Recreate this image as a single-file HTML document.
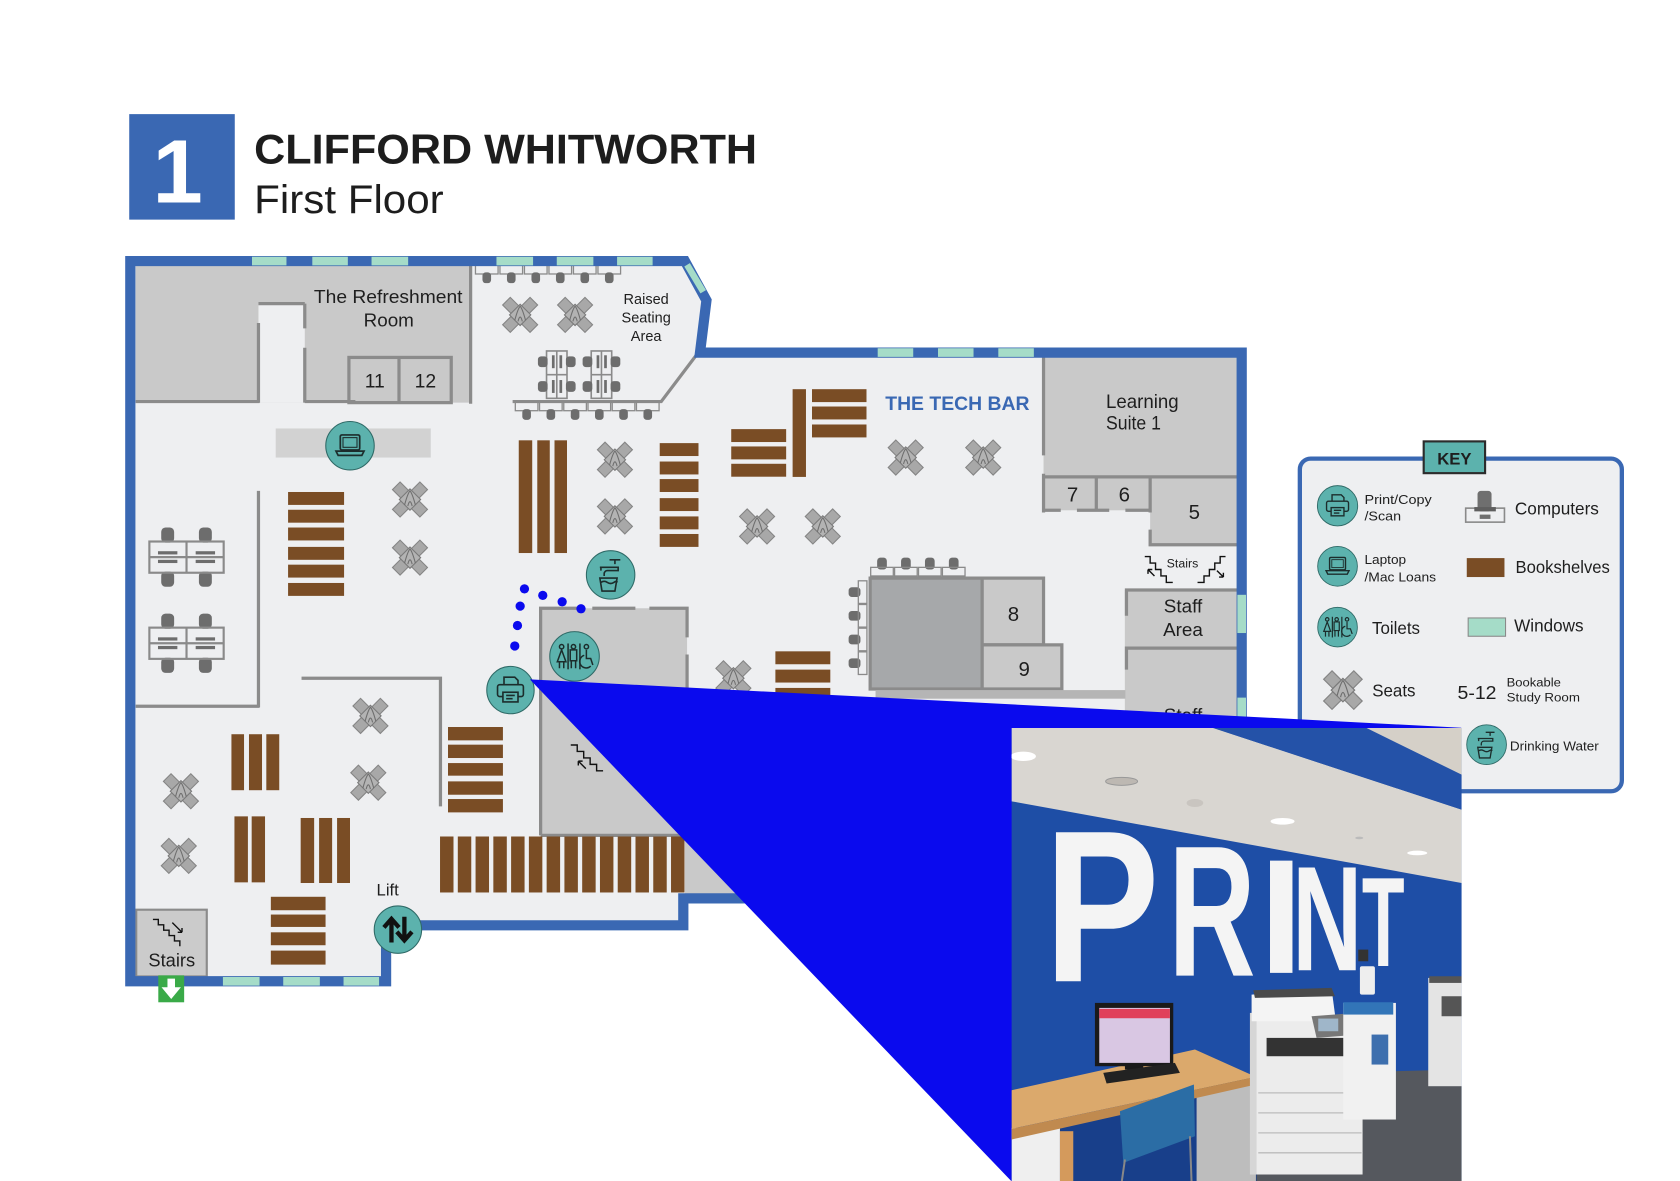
<!DOCTYPE html>
<html><head><meta charset="utf-8">
<style>
html,body{margin:0;padding:0;background:#fff;overflow:hidden}
svg{display:block}
text{font-family:"Liberation Sans",Arial,sans-serif}
</style></head>
<body>
<svg width="1680" height="1181" viewBox="0 0 1560 1097" preserveAspectRatio="none" xmlns="http://www.w3.org/2000/svg">
<defs>
 <g id="seat">
  <rect x="-18" y="-5" width="36" height="10" fill="#a8a8a8" stroke="#858585" stroke-width="1" transform="rotate(45)"/>
  <rect x="-18" y="-5" width="36" height="10" fill="#a8a8a8" stroke="#858585" stroke-width="1" transform="rotate(-45)"/>
  <rect x="-7" y="-7" width="14" height="14" fill="#b3b3b3" stroke="#7a7a7a" stroke-width="1" transform="rotate(45)"/>
  <path d="M-5,5 Q-2,-6 0,-8 Q2,-6 5,5 M-2,6 Q0,-2 2,6" fill="none" stroke="#6e6e6e" stroke-width="1"/>
 </g>
 <g id="cc">
  <rect x="12" y="1" width="12" height="14" rx="4" fill="#6d6d6d"/>
  <rect x="47" y="1" width="12" height="14" rx="4" fill="#6d6d6d"/>
  <rect x="12" y="42" width="12" height="14" rx="4" fill="#6d6d6d"/>
  <rect x="47" y="42" width="12" height="14" rx="4" fill="#6d6d6d"/>
  <rect x="1" y="14" width="69" height="29" fill="none" stroke="#8a8a8a" stroke-width="2"/>
  <path d="M35.5,14 V43 M1,28.5 H70" stroke="#8a8a8a" stroke-width="2"/>
  <rect x="9" y="23" width="18" height="3" fill="#6d6d6d"/>
  <rect x="44" y="23" width="18" height="3" fill="#6d6d6d"/>
  <rect x="9" y="31" width="18" height="3" fill="#6d6d6d"/>
  <rect x="44" y="31" width="18" height="3" fill="#6d6d6d"/>
 </g>
 <g id="vc">
  <rect x="9" y="1" width="19" height="44" fill="none" stroke="#8a8a8a" stroke-width="1.5"/>
  <path d="M18.5,1 V45 M9,23 H28" stroke="#8a8a8a" stroke-width="1.5"/>
  <rect x="1" y="6" width="9" height="10" rx="3" fill="#6d6d6d"/>
  <rect x="1" y="29" width="9" height="10" rx="3" fill="#6d6d6d"/>
  <rect x="27" y="6" width="9" height="10" rx="3" fill="#6d6d6d"/>
  <rect x="27" y="29" width="9" height="10" rx="3" fill="#6d6d6d"/>
  <rect x="14" y="5" width="2.5" height="12" fill="#6d6d6d"/>
  <rect x="21" y="5" width="2.5" height="12" fill="#6d6d6d"/>
  <rect x="14" y="28" width="2.5" height="12" fill="#6d6d6d"/>
  <rect x="21" y="28" width="2.5" height="12" fill="#6d6d6d"/>
 </g>
 <g id="du"><rect x="0.5" y="0.5" width="21" height="8" fill="none" stroke="#8a8a8a" stroke-width="1.2"/><rect x="7" y="7" width="8" height="10" rx="3" fill="#6d6d6d"/></g>
 <g id="du2"><rect x="6.5" y="0" width="9" height="11" rx="3" fill="#6d6d6d"/><rect x="0.5" y="9" width="21" height="8" fill="none" stroke="#8a8a8a" stroke-width="1.2"/></g>
 <g id="du3"><rect x="0" y="6.5" width="11" height="9" rx="3" fill="#6d6d6d"/><rect x="9" y="0.5" width="8" height="21" fill="none" stroke="#8a8a8a" stroke-width="1.2"/></g>
 <g id="printer"><circle r="22" fill="#5cb2ad" stroke="#2f6a67" stroke-width="1"/><g fill="none" stroke="#1c2d2c" stroke-width="1.5"><path d="M-6,-5 V-12 H4 L7,-9 V-5"/><rect x="-12" y="-5" width="24" height="11" rx="2"/><rect x="-7" y="2" width="14" height="9" fill="#5cb2ad"/><path d="M-4,5 H4 M-4,8 H2"/></g></g>
 <g id="laptop"><circle r="22.5" fill="#5cb2ad" stroke="#2f6a67" stroke-width="1"/><g fill="none" stroke="#1c2d2c" stroke-width="1.6"><rect x="-9" y="-10" width="18" height="14" rx="1.5"/><rect x="-6.5" y="-7.5" width="13" height="9" stroke-width="1"/><path d="M-13,5 H13 L11,9 H-11 Z"/></g></g>
 <g id="toilet"><circle r="23" fill="#5cb2ad" stroke="#2f6a67" stroke-width="1"/><g fill="none" stroke="#1c2d2c" stroke-width="1.4"><circle cx="-12" cy="-9" r="2"/><path d="M-12,-6 L-16,5 H-8 Z M-14,5 V11 M-10,5 V11"/><path d="M-6,-12 V12"/><circle cx="-1" cy="-9" r="2"/><path d="M-4,-6 H2 V4 H-4 Z M-3,4 V11 M1,4 V11"/><path d="M5,-12 V12"/><circle cx="11" cy="-9" r="2"/><path d="M11,-6 V2 H15 L17,8 M9,-1 A6,6 0 1 0 15,9"/></g></g>
 <g id="water"><circle r="22.5" fill="#5cb2ad" stroke="#2f6a67" stroke-width="1"/><g fill="none" stroke="#1c2d2c" stroke-width="1.5"><path d="M-1,-14 H9 M4,-14 V-10 M-10,-7 H7 V-4 H-3 A3,3 0 0 0 -6,-1 V1 M-9,-7 V-4"/><path d="M-10,3 H6 L4,15 H-8 Z"/><path d="M-9,7 Q-6,5 -3,7 T3,7 T6,7"/></g></g>
 <clipPath id="pc"><rect x="5" y="25" width="1350" height="1362"/></clipPath>
</defs>

<!-- HEADER -->
<rect x="120" y="106" width="98" height="98" fill="#3a68b3"/>
<text x="165" y="188" font-size="84" font-weight="700" fill="#fff" text-anchor="middle">1</text>
<text x="236" y="152" font-size="39" font-weight="700" fill="#1d1d1d" textLength="467" lengthAdjust="spacingAndGlyphs">CLIFFORD WHITWORTH</text>
<text x="236" y="198" font-size="37" fill="#1d1d1d" textLength="176" lengthAdjust="spacingAndGlyphs">First Floor</text>

<!-- FLOOR -->
<polygon points="121,242.5 636,242.5 656,279 650,327.5 1153,327.5 1153,705 770,705 770,834.5 634.5,834.5 634.5,859.5 358.5,859.5 358.5,911.5 121,911.5" fill="#eeeff1"/>

<!-- refreshment area -->
<rect x="126" y="247" width="311" height="127" fill="#c9c9c9"/>
<rect x="240" y="282" width="43" height="92" fill="#eeeff1"/>
<rect x="324" y="332" width="95" height="42" fill="#c9c9c9" stroke="#8b8b8b" stroke-width="3"/>
<path d="M370.5,332 V374" stroke="#8b8b8b" stroke-width="3"/>
<g stroke="#8b8b8b" stroke-width="3" fill="none">
 <path d="M126,373 H241 M240,300 V374 M240,282 H283 M283,282 V305 M283,323 V374 M283,373 H330 M437,247 V375"/>
 <path d="M240,456 V657 M126,656 H241 M280,630 H409 V749"/>
 <path d="M476,373 H614 L648,328"/>
</g>
<text x="360.5" y="281.5" font-size="17.5" fill="#1e1e1e" text-anchor="middle" textLength="138" lengthAdjust="spacingAndGlyphs">The Refreshment</text>
<text x="361" y="303.5" font-size="17.5" fill="#1e1e1e" text-anchor="middle">Room</text>
<text x="348" y="360" font-size="18" fill="#1e1e1e" text-anchor="middle">11</text>
<text x="395" y="360" font-size="18" fill="#1e1e1e" text-anchor="middle">12</text>

<!-- raised seating -->
<use href="#du" x="441" y="246"/><use href="#du" x="463.75" y="246"/><use href="#du" x="486.5" y="246"/><use href="#du" x="509.25" y="246"/><use href="#du" x="532" y="246"/><use href="#du" x="554.75" y="246"/>
<use href="#du" x="478" y="373"/><use href="#du" x="500.5" y="373"/><use href="#du" x="523" y="373"/><use href="#du" x="545.5" y="373"/><use href="#du" x="568" y="373"/><use href="#du" x="590.5" y="373"/>
<use href="#vc" x="498.5" y="325"/><use href="#vc" x="540" y="325"/>
<text x="600" y="282.3" font-size="13.5" fill="#1e1e1e" text-anchor="middle">Raised</text>
<text x="600" y="299.6" font-size="13.5" fill="#1e1e1e" text-anchor="middle">Seating</text>
<text x="600" y="316.6" font-size="13.5" fill="#1e1e1e" text-anchor="middle">Area</text>

<!-- laptop bar -->
<rect x="256" y="398" width="144" height="27" fill="#d2d2d2"/>

<!-- computer clusters -->
<use href="#cc" x="137.7" y="489"/><use href="#cc" x="137.7" y="569"/>

<!-- bookshelves -->
<g fill="#7a4d25">
 <rect x="267.5" y="457" width="52" height="12"/><rect x="267.5" y="473.5" width="52" height="12"/><rect x="267.5" y="490" width="52" height="12"/><rect x="267.5" y="508" width="52" height="12"/><rect x="267.5" y="524.5" width="52" height="12"/><rect x="267.5" y="541.5" width="52" height="12"/>
 <rect x="481.7" y="409" width="12.5" height="104.7"/><rect x="498.9" y="409" width="11.6" height="104.7"/><rect x="514.9" y="409" width="11.6" height="104.7"/>
 <rect x="612.6" y="411.6" width="36" height="12"/><rect x="612.6" y="428.7" width="36" height="12"/><rect x="612.6" y="445" width="36" height="12"/><rect x="612.6" y="462.7" width="36" height="12"/><rect x="612.6" y="479.7" width="36" height="12"/><rect x="612.6" y="496" width="36" height="12"/>
 <rect x="679" y="398.6" width="51" height="12"/><rect x="679" y="414.7" width="51" height="12"/><rect x="679" y="430.8" width="51" height="12"/>
 <rect x="736" y="361.5" width="12.4" height="81.5"/>
 <rect x="754" y="361.5" width="50.6" height="12"/><rect x="754" y="377.6" width="50.6" height="12"/><rect x="754" y="394.3" width="50.6" height="12"/>
 <rect x="720" y="605" width="51" height="12"/><rect x="720" y="622" width="51" height="12"/><rect x="720" y="639" width="51" height="12"/>
 <rect x="214.9" y="682" width="11.7" height="52"/><rect x="231.2" y="682" width="12.1" height="52"/><rect x="247.3" y="682" width="12" height="52"/>
 <rect x="217.7" y="758.3" width="12.5" height="61.3"/><rect x="233.7" y="758.3" width="12.4" height="61.3"/>
 <rect x="279.2" y="759.8" width="12.5" height="60.4"/><rect x="296.3" y="759.8" width="12.1" height="60.4"/><rect x="313" y="759.8" width="12" height="60.4"/>
 <rect x="251.5" y="833" width="50.8" height="12.5"/><rect x="251.5" y="849.5" width="50.8" height="11.5"/><rect x="251.5" y="866" width="50.8" height="12"/><rect x="251.5" y="883" width="50.8" height="13"/>
 <rect x="416" y="675.3" width="51" height="12.4"/><rect x="416" y="691.7" width="51" height="12.4"/><rect x="416" y="708.8" width="51" height="11.7"/><rect x="416" y="725.8" width="51" height="12.4"/><rect x="416" y="742.2" width="51" height="12.4"/>
</g>

<!-- toilet block -->
<rect x="502" y="565" width="136" height="210" fill="#c9c9c9"/>
<rect x="636" y="777" width="140" height="55" fill="#c9c9c9"/>
<g stroke="#8b8b8b" stroke-width="3" fill="none">
 <path d="M502,776 V565 H540 M550,565 H590 M603,565 H638 V592 M638,608 V640 M502,776 H638"/>
</g>
<g fill="#7a4d25">
 <rect x="408.6" y="777" width="12.5" height="52"/><rect x="425.1" y="777" width="12.5" height="52"/><rect x="441.6" y="777" width="12.5" height="52"/><rect x="458.1" y="777" width="12.5" height="52"/><rect x="474.6" y="777" width="12.5" height="52"/><rect x="491.1" y="777" width="12.5" height="52"/><rect x="507.6" y="777" width="12.5" height="52"/><rect x="524.1" y="777" width="12.5" height="52"/><rect x="540.6" y="777" width="12.5" height="52"/><rect x="557.1" y="777" width="12.5" height="52"/><rect x="573.6" y="777" width="12.5" height="52"/><rect x="590.1" y="777" width="12.5" height="52"/><rect x="606.6" y="777" width="12.5" height="52"/><rect x="623.1" y="777" width="12.5" height="52"/>
</g>
<g fill="none" stroke="#111" stroke-width="1.3">
 <path d="M530,692 h6 v6 h6 v6 h6 v6 h6 v6 h6"/>
 <path d="M544,714 l-7,-7 M537,707 h4 M537,707 v4"/>
</g>

<!-- tech bar rooms -->
<rect x="969" y="332" width="181" height="111" fill="#c9c9c9"/>
<rect x="969" y="443" width="99" height="31" fill="#c9c9c9"/>
<rect x="1068" y="443" width="82" height="63" fill="#c9c9c9"/>
<rect x="1044.5" y="548" width="106" height="54" fill="#c9c9c9"/>
<rect x="1044.5" y="602" width="106" height="100" fill="#c9c9c9"/>
<g stroke="#8b8b8b" stroke-width="3" fill="none">
 <path d="M969,332 V423 M969,440 V476 M969,443 H1150 M969,474 H985 M1000,474 H1030 M1045,474 H1068 M1018,443 V474 M1068,443 V476 M1068,492 V506 H1150"/>
 <path d="M1044.5,548 H1150 M1046,548 V572 M1044.5,602 H1150 M1046,602 V622"/>
</g>
<rect x="808" y="537" width="104" height="103" fill="#a6a8aa" stroke="#8b8b8b" stroke-width="3"/>
<rect x="912" y="537" width="57" height="62" fill="#c9c9c9" stroke="#8b8b8b" stroke-width="3"/>
<rect x="912" y="599" width="74" height="41" fill="#c9c9c9" stroke="#8b8b8b" stroke-width="3"/>
<rect x="813" y="641" width="232" height="8" fill="#b5b5b5"/>
<use href="#du2" x="808" y="518"/><use href="#du2" x="830.2" y="518"/><use href="#du2" x="852.4" y="518"/><use href="#du2" x="874.6" y="518"/>
<use href="#du3" x="788" y="539"/><use href="#du3" x="788" y="561"/><use href="#du3" x="788" y="583"/><use href="#du3" x="788" y="605"/>

<text x="822" y="381" font-size="18" font-weight="700" fill="#3a68b3" textLength="134" lengthAdjust="spacingAndGlyphs">THE TECH BAR</text>
<text x="1027" y="379" font-size="18" fill="#1e1e1e" textLength="67.5" lengthAdjust="spacingAndGlyphs">Learning</text>
<text x="1027" y="399" font-size="18" fill="#1e1e1e" textLength="51" lengthAdjust="spacingAndGlyphs">Suite 1</text>
<text x="996" y="466" font-size="19" fill="#1e1e1e" text-anchor="middle">7</text>
<text x="1044" y="466" font-size="19" fill="#1e1e1e" text-anchor="middle">6</text>
<text x="1109" y="482" font-size="19" fill="#1e1e1e" text-anchor="middle">5</text>
<text x="941" y="577" font-size="19" fill="#1e1e1e" text-anchor="middle">8</text>
<text x="951" y="628" font-size="19" fill="#1e1e1e" text-anchor="middle">9</text>
<text x="1098.5" y="569" font-size="17.5" fill="#1e1e1e" text-anchor="middle">Staff</text>
<text x="1098.5" y="591" font-size="17.5" fill="#1e1e1e" text-anchor="middle">Area</text>
<text x="1098.5" y="670" font-size="17.5" fill="#1e1e1e" text-anchor="middle">Staff</text>
<text x="1098" y="527" font-size="11.5" fill="#1e1e1e" text-anchor="middle">Stairs</text>
<g fill="none" stroke="#111" stroke-width="1.3">
 <path d="M1063,517 h5 v6 h5 v6 h5 v6 h5 v6 h6"/>
 <path d="M1072,535 l-6,-6 M1066,529 h4 M1066,529 v4"/>
 <path d="M1138,517 h-5 v6 h-5 v6 h-5 v6 h-5 v6 h-6"/>
 <path d="M1130,530 l6,6 M1136,536 h-4 M1136,536 v-4"/>
</g>

<!-- seats -->
<use href="#seat" x="483" y="292.5"/><use href="#seat" x="534" y="292.5"/>
<use href="#seat" x="380.7" y="464"/><use href="#seat" x="380.7" y="518"/>
<use href="#seat" x="571" y="427"/><use href="#seat" x="571" y="479.7"/>
<use href="#seat" x="841" y="425"/><use href="#seat" x="913" y="425"/>
<use href="#seat" x="703" y="489"/><use href="#seat" x="764" y="489"/>
<use href="#seat" x="681" y="630"/>
<use href="#seat" x="344" y="665"/><use href="#seat" x="342" y="727"/>
<use href="#seat" x="168" y="735"/><use href="#seat" x="166" y="795"/>

<!-- bottom-left stairs -->
<rect x="126.5" y="845" width="65.5" height="62" fill="#cbcbcb" stroke="#8b8b8b" stroke-width="2"/>
<g fill="none" stroke="#111" stroke-width="1.3">
 <path d="M142,854 h5 v5 h5 v5 h5 v5 h5 v5 h5 v5"/>
 <path d="M160,857 l9,9 M169,866 h-4 M169,866 v-4"/>
</g>
<text x="159.5" y="898" font-size="17" fill="#1e1e1e" text-anchor="middle">Stairs</text>

<!-- OUTER WALL -->
<path d="M770,834.5 H634.5 V859.5 H358.5 V911.5 H121 V242.5 H636 L656,279 L650,327.5 H1153 V705" fill="none" stroke="#3a68b3" stroke-width="9.5" stroke-linejoin="miter"/>
<g fill="#a5dcc8">
 <rect x="234" y="238.5" width="32" height="8"/><rect x="290" y="238.5" width="33" height="8"/><rect x="345" y="238.5" width="34" height="8"/>
 <rect x="461" y="238.5" width="34" height="8"/><rect x="517" y="238.5" width="34" height="8"/><rect x="573" y="238.5" width="33" height="8"/>
 <rect x="815" y="323.5" width="33" height="8"/><rect x="871" y="323.5" width="33" height="8"/><rect x="927" y="323.5" width="33" height="8"/>
 <rect x="1149" y="552.5" width="8" height="35.5"/><rect x="1149" y="648" width="8" height="25"/>
 <rect x="207" y="907.5" width="34" height="8"/><rect x="263" y="907.5" width="34" height="8"/><rect x="319" y="907.5" width="33" height="8"/>
</g>
<path d="M638,246 L653,271" stroke="#a5dcc8" stroke-width="6"/>

<!-- green exit arrow -->
<rect x="147" y="906" width="24" height="25" fill="#3aaa48"/>
<polygon points="155.5,909 162.5,909 162.5,917 168,917 159,928 150,917 155.5,917" fill="#fff"/>

<!-- lift -->
<text x="360" y="832" font-size="15.5" fill="#1e1e1e" text-anchor="middle">Lift</text>
<g transform="translate(369.5,863.5)">
 <circle r="22" fill="#5cb2ad" stroke="#2f6a67" stroke-width="1"/>
 <g stroke="#111" stroke-width="4" fill="none"><path d="M-6,12 V-9 M-13,-2 L-6,-10 L1,-2"/><path d="M6,-12 V9 M-1,2 L6,10 L13,2"/></g>
</g>

<!-- icons on plan -->
<use href="#laptop" x="325" y="414"/>
<use href="#water" x="567" y="534"/>
<use href="#toilet" x="533.5" y="609.7"/>
<g fill="#0a0aee">
 <circle cx="487" cy="547" r="4.3"/><circle cx="504" cy="553" r="4.3"/><circle cx="522" cy="559" r="4.3"/><circle cx="539.5" cy="565.5" r="4.3"/>
 <circle cx="483" cy="563" r="4.3"/><circle cx="480.5" cy="581" r="4.3"/><circle cx="478" cy="600" r="4.3"/>
</g>
<use href="#printer" x="474" y="641"/>

<!-- LEGEND -->
<rect x="1207" y="426" width="299" height="309" rx="10" fill="#eeeff1" stroke="#3a68b3" stroke-width="4"/>
<rect x="1322" y="410" width="57" height="29.5" fill="#5cb2ad" stroke="#2c2c2c" stroke-width="2"/>
<text x="1350.5" y="431.5" font-size="15.5" font-weight="700" fill="#1e1e1e" text-anchor="middle">KEY</text>
<g transform="translate(1242,469.8) scale(0.85)"><use href="#printer"/></g>
<g transform="translate(1242,526) scale(0.82)"><use href="#laptop"/></g>
<g transform="translate(1242,582.5) scale(0.8)"><use href="#toilet"/></g>
<g transform="translate(1247,641) scale(1.1)"><use href="#seat"/></g>
<g transform="translate(1380.4,691.7) scale(0.82)"><use href="#water"/></g>
<g>
 <rect x="1372" y="456" width="13" height="19" rx="3" fill="#6f6f6f"/>
 <rect x="1361" y="472" width="36" height="13" fill="none" stroke="#8a8a8a" stroke-width="1.5"/>
 <rect x="1369" y="471" width="20" height="4" fill="#5f5f5f"/>
 <rect x="1374" y="478" width="10" height="4" fill="#6f6f6f"/>
</g>
<rect x="1362" y="518.4" width="35" height="17.6" fill="#7a4d25"/>
<rect x="1363.3" y="574" width="34.7" height="17" fill="#a5dcc8" stroke="#8a8a8a" stroke-width="1"/>
<g fill="#1e1e1e">
 <text x="1267" y="468" font-size="12" textLength="62.5" lengthAdjust="spacingAndGlyphs">Print/Copy</text>
 <text x="1267" y="483.5" font-size="12" textLength="34" lengthAdjust="spacingAndGlyphs">/Scan</text>
 <text x="1406.7" y="478" font-size="16" textLength="78" lengthAdjust="spacingAndGlyphs">Computers</text>
 <text x="1267" y="524" font-size="12" textLength="38.7" lengthAdjust="spacingAndGlyphs">Laptop</text>
 <text x="1267" y="540" font-size="12" textLength="66.5" lengthAdjust="spacingAndGlyphs">/Mac Loans</text>
 <text x="1407.3" y="532.3" font-size="16" textLength="87.6" lengthAdjust="spacingAndGlyphs">Bookshelves</text>
 <text x="1274" y="588.7" font-size="16" textLength="44.6" lengthAdjust="spacingAndGlyphs">Toilets</text>
 <text x="1406" y="586.5" font-size="16" textLength="64.4" lengthAdjust="spacingAndGlyphs">Windows</text>
 <text x="1274.2" y="646.9" font-size="16" textLength="40.2" lengthAdjust="spacingAndGlyphs">Seats</text>
 <text x="1353.4" y="649.3" font-size="17" textLength="36.2" lengthAdjust="spacingAndGlyphs">5-12</text>
 <text x="1399" y="637.6" font-size="11.5" textLength="50.4" lengthAdjust="spacingAndGlyphs">Bookable</text>
 <text x="1399" y="651.5" font-size="11.5" textLength="68.1" lengthAdjust="spacingAndGlyphs">Study Room</text>
 <text x="1402" y="697" font-size="12" textLength="82.6" lengthAdjust="spacingAndGlyphs">Drinking Water</text>
</g>

<!-- BLUE CALLOUT -->
<polygon points="492,631 1357,676 939,1097" fill="#0a0aee"/>

<!-- PHOTO -->
<g transform="translate(937.8,668.5) scale(0.3095)">
 <g clip-path="url(#pc)">
  <rect x="0" y="0" width="1400" height="1400" fill="#1e4ea6"/>
  <polygon points="5,25 610,25 1355,270 1355,490 5,245" fill="#d9d6d1"/>
  <polygon points="610,25 1070,25 1355,165 1355,270" fill="#2452a8"/>
  <polygon points="1070,25 1355,25 1355,165" fill="#d5d0c8"/>
  <ellipse cx="40" cy="110" rx="38" ry="14" fill="#fff"/>
  <ellipse cx="335" cy="185" rx="48" ry="12" fill="#bdb8b2" stroke="#999" stroke-width="3"/>
  <ellipse cx="555" cy="250" rx="25" ry="12" fill="#c9c5c0"/>
  <ellipse cx="818" cy="305" rx="36" ry="10" fill="#fff"/>
  <ellipse cx="1222" cy="400" rx="30" ry="7" fill="#fff"/>
  <ellipse cx="1048" cy="355" rx="12" ry="4" fill="#bbb"/>
  <polygon points="540,1070 1355,1050 1355,1390 540,1390" fill="#55585e"/>
  <polygon points="5,1230 740,1080 740,1390 5,1390" fill="#183f8a"/>
  <rect x="5" y="1225" width="145" height="165" fill="#efefef"/>
  <polygon points="560,1115 738,1085 738,1390 560,1390" fill="#bdbdbd"/>
  <rect x="150" y="1235" width="40" height="155" fill="#d49a5c"/>
  <polygon points="5,1112 555,990 738,1072 5,1228" fill="#dba96c"/>
  <polygon points="5,1228 738,1072 738,1095 5,1260" fill="#c08a4f"/>
  <rect x="255" y="850" width="235" height="190" fill="#1a1a1a"/>
  <rect x="268" y="865" width="212" height="165" fill="#d9c7e3"/>
  <rect x="268" y="868" width="212" height="28" fill="#e0405a"/>
  <rect x="345" y="1035" width="55" height="15" fill="#1a1a1a"/>
  <polygon points="280,1060 495,1030 510,1060 290,1092" fill="#222"/>
  <polygon points="330,1175 552,1095 555,1250 340,1330" fill="#2b6da5"/>
  <path d="M345,1320 L335,1390 M540,1250 L545,1390" stroke="#888" stroke-width="6"/>
  <rect x="720" y="880" width="40" height="485" fill="#d6d6d6"/>
  <rect x="740" y="900" width="318" height="465" fill="#ececec"/>
  <polygon points="725,825 965,808 978,905 725,905" fill="#f4f4f4"/>
  <polygon points="730,812 965,805 975,830 735,835" fill="#4a4a4a"/>
  <rect x="770" y="955" width="270" height="55" fill="#333"/>
  <polygon points="905,890 1040,880 1050,945 920,955" fill="#777"/>
  <rect x="925" y="897" width="60" height="38" fill="#9fb6c9"/>
  <path d="M745,1120 H1055 M745,1180 H1055 M745,1240 H1055 M745,1300 H1055" stroke="#bbb" stroke-width="4"/>
  <rect x="1000" y="850" width="158" height="350" fill="#f1f1f1"/>
  <rect x="1000" y="848" width="150" height="37" fill="#3275b8"/>
  <rect x="1085" y="945" width="50" height="90" fill="#3d6fae"/>
  <rect x="1255" y="775" width="100" height="325" fill="#e4e4e4"/>
  <rect x="1258" y="770" width="97" height="20" fill="#555"/>
  <rect x="1295" y="830" width="60" height="60" fill="#555"/>
  <rect x="1050" y="740" width="45" height="85" rx="6" fill="#eeeeee"/>
  <rect x="1045" y="690" width="30" height="35" fill="#333"/>
  <g fill="#f4f4f4" font-weight="700" text-anchor="middle">
   <text x="276" y="785" font-size="650" textLength="345" lengthAdjust="spacingAndGlyphs">P</text>
   <text x="606" y="768" font-size="560" textLength="262" lengthAdjust="spacingAndGlyphs">R</text>
   <text x="814" y="760" font-size="490" textLength="130" lengthAdjust="spacingAndGlyphs">I</text>
   <text x="952" y="752" font-size="448" textLength="210" lengthAdjust="spacingAndGlyphs">N</text>
   <text x="1120" y="740" font-size="383" textLength="128" lengthAdjust="spacingAndGlyphs">T</text>
  </g>
 </g>
</g>
</svg>
</body></html>
